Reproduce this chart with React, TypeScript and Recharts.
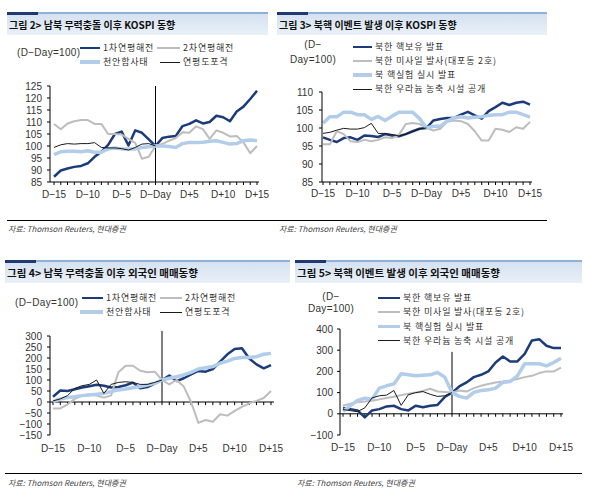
import React from 'react';
import { LineChart, Line, XAxis, YAxis, ReferenceLine } from 'recharts';

// x categories and the labels that are printed under the axis
const days = [
  'D-15', 'D-14', 'D-13', 'D-12', 'D-11', 'D-10', 'D-9', 'D-8', 'D-7', 'D-6', 'D-5',
  'D-4', 'D-3', 'D-2', 'D-1', 'D-Day', 'D+1', 'D+2', 'D+3', 'D+4', 'D+5', 'D+6',
  'D+7', 'D+8', 'D+9', 'D+10', 'D+11', 'D+12', 'D+13', 'D+14', 'D+15',
];
const dayLabels = ['D-15', 'D-10', 'D-5', 'D-Day', 'D+5', 'D+10', 'D+15'];

// 그림 2: 남북 무력충돌 이후 KOSPI
const clashNames = ['1차연평해전', '2차연평해전', '천안함사태', '연평도포격'];
const kospiFirst = [87.2, 89.8, 90.6, 91.3, 91.7, 92.8, 95.5, 97.6, 100.5, 105, 106, 100.2, 106.5, 105.5, 102.8, 100, 103.3, 103.9, 104.2, 108.3, 109.2, 110.7, 109.4, 110, 112.6, 112, 110.3, 114.4, 116.4, 119.6, 123];
const kospiSecond = [109.2, 107, 109.4, 110.3, 110.8, 110.8, 109.2, 109.2, 105, 105, 104.8, 103, 101.3, 94.7, 95.5, 100, 100.8, 102.2, 103.3, 105.7, 105.5, 108.2, 107, 103, 106.5, 105.5, 104, 104.2, 101.5, 97, 100];
const kospiCheonan = [96.4, 97.6, 97.8, 97.8, 97.6, 98, 97.4, 97.4, 98.8, 99.2, 98.8, 98.8, 98.8, 99.4, 99.7, 100, 100, 99.8, 99.4, 101, 101.5, 101.5, 101.6, 102, 102.2, 101.5, 100.8, 101, 102.2, 102.5, 102.2];
const kospiYeonpyeong = [99.4, 100.5, 101, 100.8, 101, 101, 101.4, 99.4, 99.2, 99.2, 98.9, 98.3, 99.4, 100.8, 101, 100, null, null, null, null, null, null, null, null, null, null, null, null, null, null, null];

// 그림 3: 북핵 이벤트 발생 이후 KOSPI
const nukeNames = ['북한 핵보유 발표', '북한 미사일 발사(대포동 2호)', '북 핵실험 실시 발표', '북한 우라늄 농축 시설 공개'];
const kospiNuclear = [97.4, 96.7, 96.1, 97.2, 97.4, 96.7, 97.9, 97.8, 97.5, 98.3, 97.9, 97.7, 98.3, 99.1, 99.8, 100, 102.1, 102.5, 102.8, 102.8, 103.7, 104.5, 103.5, 102.6, 104.7, 105.8, 107, 106.4, 107, 107.3, 106.5];
const kospiMissile = [95.5, 95.5, 99.1, 98.3, 96.3, 96.1, 96.7, 96.3, 96.7, 97.4, 97.2, 98.1, 101.1, 101.4, 101.1, 100, 99.3, 99.8, 101.7, 102.1, 101.9, 101.1, 99.1, 96.5, 96.5, 99.8, 99.5, 98.9, 100.2, 99.8, 101.7];
const kospiTest = [101.3, 103.1, 103.1, 104.4, 104.4, 103.7, 103.7, 102.4, 103.2, 102.1, 103.3, 104.4, 104.4, 104.4, 102.6, 100, 100.5, 100.5, 101.9, 102.8, 103.1, 102.8, 103, 103.1, 103.5, 103.7, 103.7, 104.4, 104.4, 103.7, 103];
const kospiUranium = [98.5, 98.8, 99.4, 99.9, 99.7, 99.7, 100.1, 101.3, 98.5, 98.5, 98.2, 97.8, 98.3, 99, 99.8, 100, null, null, null, null, null, null, null, null, null, null, null, null, null, null, null];

// 그림 4: 남북 무력충돌 이후 외국인 매매
const flowFirst = [24, 52, 50, 58, 66, 72, 78, 74, 66, 68, 76, 88, 62, 68, 84, 100, 120, 95, 108, 126, 141, 138, 150, 183, 217, 241, 244, 198, 171, 153, 168];
const flowSecond = [-29, -29, -11, 14, 29, 35, 29, 20, 30, 135, 165, 165, 142, 135, 138, 100, 80, 100, 70, 0, -95, -82, -90, -56, -62, -40, -22, -6, 5, 18, 50];
const flowCheonan = [2, 14, 20, 24, 29, 32, 35, 39, 47, 55, 59, 65, 70, 77, 85, 100, 108, 115, 123, 135, 150, 156, 161, 176, 186, 198, 202, 202, 206, 217, 221];
const flowYeonpyeong = [5, 14, 29, 62, 74, 80, 100, 39, 80, 89, 92, 89, 80, 80, 89, 100, null, null, null, null, null, null, null, null, null, null, null, null, null, null, null];

// 그림 5: 북핵 이벤트 발생 이후 외국인 매매
const flowNuclear = [27, 22, 16, -17, 16, 22, 35, 38, 22, 16, 38, 31, 38, 42, 79, 100, 129, 148, 173, 184, 200, 242, 270, 247, 247, 283, 346, 352, 321, 310, 310];
const flowMissile = [38, 48, 55, 58, 62, 68, 75, 80, 88, 95, 100, 108, 118, 105, 103, 100, 110, 105, 121, 132, 141, 148, 152, 157, 164, 173, 179, 192, 200, 200, 218];
const flowTest = [11, 38, 63, 74, 69, 121, 132, 141, 189, 184, 179, 182, 184, 195, 173, 100, 82, 74, 101, 110, 113, 121, 148, 152, 179, 236, 236, 236, 226, 242, 262];
const flowUranium = [20, 15, 10, 28, 75, 85, 88, 110, 40, 90, 100, 105, 92, 82, 85, 100, null, null, null, null, null, null, null, null, null, null, null, null, null, null, null];

const kospiTicks1 = [85, 90, 95, 100, 105, 110, 115, 120, 125];
const kospiTicks2 = [85, 90, 95, 100, 105, 110];
const flowTicks1 = [-150, -100, -50, 0, 50, 100, 150, 200, 250, 300];
const flowTicks2 = [-100, 0, 100, 200, 300, 400];

const KR = '"Noto Sans CJK KR", "Noto Sans", sans-serif';
const NUM = '"Liberation Sans", Arial, sans-serif';

// series look, in the order the series are listed
const seriesStyle = [
  { color: '#1C3B7A', width: 2.5 },
  { color: '#BDBDBD', width: 2 },
  { color: '#B2CDEA', width: 3.5 },
  { color: '#1A1A1A', width: 1 },
];

const buildRows = (cols: (number | null)[][]) =>
  days.map((day, i) => {
    const row: Record<string, any> = { day };
    cols.forEach((c, k) => (row['s' + k] = c[i]));
    return row;
  });

const minus = (s: string) => s.replace('-', '−');

const makeXTick = (dy: number) => (props: any) => {
  const { x, y, payload } = props;
  if (!dayLabels.includes(payload.value)) return <g />;
  return (
    <text x={x} y={y} dy={dy} textAnchor="middle" fontSize={10} fill="#333" fontFamily={NUM}>
      {minus(payload.value)}
    </text>
  );
};

interface ChartProps {
  left: number;
  top: number;
  width: number;
  height: number;
  marginRight: number;
  rows: Record<string, any>[];
  domain: [number, number];
  ticks: number[];
  tickMargin: number;
  pad: { left: number; right: number };
  labelDy: number;
  zeroAxis?: boolean;
  tickDepth?: number;
  dayLineTop?: number | 'full' | null;
}

function Chart(p: ChartProps) {
  return (
    <div style={{ position: 'absolute', left: p.left, top: p.top }}>
      <LineChart width={p.width} height={p.height} data={p.rows} margin={{ top: 16, right: p.marginRight, left: 0, bottom: 0 }}>
        <XAxis
          dataKey="day"
          interval={0}
          height={20}
          padding={p.pad}
          tickSize={3}
          axisLine={p.zeroAxis ? false : { stroke: '#000' }}
          tickLine={p.zeroAxis ? false : { stroke: '#000' }}
          tick={makeXTick(p.labelDy)}
        />
        <YAxis
          type="number"
          width={50}
          domain={p.domain}
          ticks={p.ticks}
          interval={0}
          tickSize={3}
          tickMargin={p.tickMargin}
          axisLine={{ stroke: '#000' }}
          tickLine={{ stroke: '#000' }}
          tick={{ fontSize: 10, fill: '#333', fontFamily: NUM }}
          tickFormatter={(v: number) => minus(String(v))}
        />
        {p.zeroAxis && <ReferenceLine y={0} stroke="#000" />}
        {p.zeroAxis &&
          days.map((d) => (
            <ReferenceLine
              key={d}
              segment={[{ x: d, y: 0 }, { x: d, y: -(p.tickDepth || 14) }]}
              stroke="#000"
            />
          ))}
        {p.dayLineTop === 'full' && <ReferenceLine x="D-Day" stroke="#000" />}
        {typeof p.dayLineTop === 'number' && (
          <ReferenceLine
            segment={[{ x: 'D-Day', y: 0 }, { x: 'D-Day', y: p.dayLineTop }]}
            stroke="#000"
            ifOverflow="visible"
          />
        )}
        {seriesStyle.map((s, k) => (
          <Line
            key={k}
            dataKey={'s' + k}
            stroke={s.color}
            strokeWidth={s.width}
            dot={false}
            activeDot={false}
            isAnimationActive={false}
            strokeLinejoin="round"
          />
        ))}
      </LineChart>
    </div>
  );
}

function Header({ left, top, width, title, size }: { left: number; top: number; width: number; title: string; size: number }) {
  return (
    <div
      style={{
        position: 'absolute',
        left,
        top,
        width,
        height: 21,
        borderTop: '2px solid #8FB0D9',
        background: 'linear-gradient(to bottom, #D6E2F1, #E9F0F8)',
      }}
    >
      <div style={{ position: 'absolute', left: 0, top: -2, width: 31, height: 3, background: '#1F3A70' }} />
      <div style={{ position: 'absolute', left: 2, top: 0, lineHeight: '21px', fontSize: size, fontWeight: 700, fontFamily: KR, color: '#111', whiteSpace: 'nowrap' }}>
        {title}
      </div>
    </div>
  );
}

function LegendItem({ x, y, len, k, label }: { x: number; y: number; len: number; k: number; label: string }) {
  const s = seriesStyle[k];
  return (
    <>
      <div style={{ position: 'absolute', left: x, top: y - s.width / 2, width: len, height: s.width, background: s.color }} />
      <div style={{ position: 'absolute', left: x + len + 3, top: y - 8, lineHeight: '16px', fontSize: 9, letterSpacing: 0.8, fontFamily: KR, color: '#333', whiteSpace: 'nowrap' }}>
        {label}
      </div>
    </>
  );
}

const Source = ({ left, top }: { left: number; top: number }) => (
  <div style={{ position: 'absolute', left, top, fontSize: 8, fontStyle: 'italic', fontFamily: KR, color: '#444', whiteSpace: 'nowrap' }}>
    자료: Thomson Reuters, 현대증권
  </div>
);

const unitText = { position: 'absolute' as const, fontSize: 10, fontFamily: NUM, color: '#333', whiteSpace: 'nowrap' as const, letterSpacing: 0.3 };

export default function App() {
  const rows1 = buildRows([kospiFirst, kospiSecond, kospiCheonan, kospiYeonpyeong]);
  const rows3 = buildRows([kospiNuclear, kospiMissile, kospiTest, kospiUranium]);
  const rows4 = buildRows([flowFirst, flowSecond, flowCheonan, flowYeonpyeong]);
  const rows5 = buildRows([flowNuclear, flowMissile, flowTest, flowUranium]);

  return (
    <div style={{ position: 'absolute', left: 0, top: 0, width: 600, height: 503, background: '#fff', overflow: 'hidden' }}>
      <Header left={7} top={12} width={261} title="그림 2> 남북 무력충돌 이후 KOSPI 동향" size={10} />
      <Header left={277} top={12} width={270} title="그림 3> 북핵 이벤트 발생 이후 KOSPI 동향" size={10} />
      <Header left={5} top={260} width={285} title="그림 4> 남북 무력충돌 이후 외국인 매매동향" size={10.5} />
      <Header left={295} top={260} width={287} title="그림 5> 북핵 이벤트 발생 이후 외국인 매매동향" size={10.5} />

      {/* 그림 2 */}
      <div style={{ ...unitText, left: 17, top: 47 }}>(D−Day=100)</div>
      <LegendItem x={80} y={48} len={20} k={0} label={clashNames[0]} />
      <LegendItem x={157} y={48} len={23} k={1} label={clashNames[1]} />
      <LegendItem x={80} y={62} len={20} k={2} label={clashNames[2]} />
      <LegendItem x={160} y={62} len={20} k={3} label={clashNames[3]} />
      <Chart left={0} top={70} width={300} height={132} marginRight={41} rows={rows1} domain={[85, 125]} ticks={kospiTicks1}
        tickMargin={5} pad={{ left: 4, right: 2 }} labelDy={11} dayLineTop="full" />

      {/* 그림 3 */}
      <div style={{ ...unitText, left: 288, top: 39, width: 50, textAlign: 'center' }}>(D−</div>
      <div style={{ ...unitText, left: 288, top: 54, width: 50, textAlign: 'center' }}>Day=100)</div>
      {nukeNames.map((n, k) => (
        <LegendItem key={n} x={353} y={47 + k * 14} len={19} k={k} label={n} />
      ))}
      <Chart left={272} top={76} width={280} height={126} marginRight={20} rows={rows3} domain={[85, 110]} ticks={kospiTicks2}
        tickMargin={6} pad={{ left: 1, right: 2 }} labelDy={10} dayLineTop={null} />

      <div style={{ position: 'absolute', left: 7, top: 220, width: 540, height: 1, background: '#000' }} />
      <Source left={8} top={223} />
      <Source left={279} top={223} />

      {/* 그림 4 */}
      <div style={{ ...unitText, left: 15, top: 297 }}>(D−Day=100)</div>
      <LegendItem x={82} y={298} len={21} k={0} label={clashNames[0]} />
      <LegendItem x={160} y={298} len={22} k={1} label={clashNames[1]} />
      <LegendItem x={80} y={312} len={23} k={2} label={clashNames[2]} />
      <LegendItem x={160} y={312} len={22} k={3} label={clashNames[3]} />
      <Chart left={0} top={320} width={300} height={135} marginRight={26} rows={rows4} domain={[-150, 300]} ticks={flowTicks1}
        tickMargin={5} pad={{ left: 3, right: 3 }} labelDy={12} zeroAxis tickDepth={14} dayLineTop={323} />

      {/* 그림 5 */}
      <div style={{ ...unitText, left: 305, top: 291, width: 52, textAlign: 'center' }}>(D−</div>
      <div style={{ ...unitText, left: 305, top: 303, width: 52, textAlign: 'center' }}>Day=100)</div>
      <Chart left={290} top={313} width={290} height={142} marginRight={17} rows={rows5} domain={[-100, 400]} ticks={flowTicks2}
        tickMargin={4} pad={{ left: 3, right: 2 }} labelDy={11} zeroAxis tickDepth={14} dayLineTop={292} />
      {nukeNames.map((n, k) => (
        <LegendItem key={n} x={378} y={298 + k * 14.3} len={22} k={k} label={n} />
      ))}

      <div style={{ position: 'absolute', left: 5, top: 473, width: 577, height: 1, background: '#000' }} />
      <Source left={8} top={477} />
      <Source left={297} top={477} />
    </div>
  );
}
